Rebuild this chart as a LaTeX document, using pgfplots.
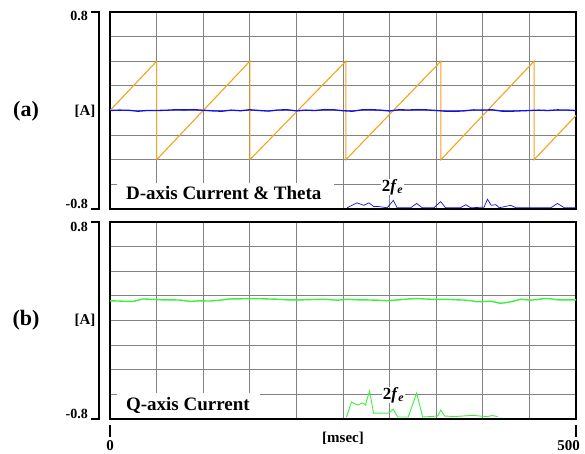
\documentclass[border=0pt]{standalone}
\usepackage{fontspec}
\setmainfont{Liberation Serif}
\usepackage{pgfplots}
\pgfplotsset{compat=1.18}
\definecolor{gridgray}{RGB}{130,130,130}
\definecolor{sawor}{RGB}{245,162,30}
\definecolor{dblue}{RGB}{15,15,240}
\definecolor{qgreen}{RGB}{60,240,60}

\pgfplotsset{
  scope/.style={
    scale only axis, width=466pt, height=197pt,
    xmin=0, xmax=500, ymin=-0.8, ymax=0.8,
    xtick={0,50,...,500},
    ytick={-0.8,-0.6,-0.4,-0.2,0,0.2,0.4,0.6,0.8},
    xticklabels={}, yticklabels={},
    major tick length=0pt,
    grid=major,
    major grid style={line width=0.8pt, gridgray},
    axis line style={line width=2pt, black},
  }
}

\begin{document}
\begin{tikzpicture}[font=\bfseries]
\useasboundingbox (0,0) rectangle (585pt,454pt);

% (a) d-axis current and theta
\begin{axis}[scope, at={(110pt,245pt)}, anchor=south west]
\addplot[sawor, line width=1.1pt] coordinates {
  (0,0) (50,0.4) (50,-0.4) (150,0.4) (150,-0.4) (253,0.4) (253,-0.4)
  (355,0.4) (355,-0.4) (455,0.4) (455,-0.4) (500,-0.04)};
\addplot[dblue, line width=1.3pt] coordinates {
  (0,0) (10,0.003) (20,0.002) (30,-0.006) (40,0) (50,0) (60,0.002) (70,0.006)
  (80,0.005) (90,0.007) (100,0.002) (110,-0.003) (120,-0.006) (130,0.003)
  (140,-0.002) (150,0.006) (160,0) (170,-0.005) (180,0.004) (190,0.006)
  (200,-0.003) (210,0.003) (220,0) (230,0.007) (240,0.006) (250,-0.002)
  (260,-0.006) (270,0.005) (280,0.007) (290,0.003) (300,-0.004) (310,0.006)
  (320,0.004) (330,0.007) (340,0.005) (350,0) (360,-0.006) (370,-0.007)
  (380,-0.003) (390,0.005) (400,0.003) (410,0.006) (420,-0.005) (430,-0.006)
  (440,-0.003) (450,0) (460,0.003) (470,0) (480,0.005) (490,0.004) (500,0)};
% spectrum
\addplot[dblue, line width=0.7pt] coordinates {
  (254.5,-0.79) (265,-0.75) (272.4,-0.77) (277.8,-0.75) (283,-0.78)
  (288,-0.78) (297.5,-0.79) (304,-0.73) (308,-0.79) (322.6,-0.79)
  (329,-0.755) (335,-0.79) (347.6,-0.79) (354.8,-0.74) (360,-0.79)
  (376,-0.79) (381.7,-0.765) (387,-0.79) (401.4,-0.785) (405,-0.72)
  (409,-0.77) (414,-0.765) (417.6,-0.79) (430,-0.77) (435.5,-0.79)
  (473,-0.79) (480,-0.755) (487.5,-0.79) (500,-0.79)};
\fill[white] (axis cs:7,-0.79) rectangle (axis cs:240,-0.592);
\node[anchor=base west, font=\fontsize{19}{21}\bfseries, inner sep=0pt]
  at (axis cs:17,-0.72) {D-axis Current \& Theta};
\node[anchor=base west, font=\fontsize{17}{19}\bfseries, inner sep=0.5pt, fill=white]
  at (axis cs:291,-0.655) {2\textit{f}\textsubscript{\textit{e}}};
\end{axis}

% (b) q-axis current
\begin{axis}[scope, at={(110pt,35pt)}, anchor=south west]
\addplot[qgreen, line width=1.4pt] coordinates {
  (0,0.16) (10,0.158) (20,0.155) (25,0.155) (35,0.175) (45,0.172) (55,0.168)
  (65,0.168) (75,0.166) (86,0.155) (95,0.16) (107,0.158) (118,0.165)
  (129,0.175) (140,0.176) (153,0.178) (165,0.176) (179,0.173) (190,0.168)
  (204,0.167) (215,0.17) (229,0.173) (244,0.165) (255,0.172) (265,0.168)
  (276,0.167) (287,0.165) (297,0.16) (310,0.168) (320,0.175) (330,0.178)
  (340,0.174) (347,0.172) (362,0.172) (372,0.168) (380,0.166) (388,0.16)
  (394,0.152) (408,0.157) (419,0.14) (425,0.145) (430,0.152) (441,0.173)
  (451,0.165) (458,0.17) (466,0.178) (473,0.176) (480,0.168) (490,0.167)
  (500,0.167)};
% spectrum
\addplot[qgreen, line width=0.9pt] coordinates {
  (253.8,-0.784) (259,-0.662) (265.6,-0.687) (271,-0.67) (274,-0.687)
  (278.5,-0.573) (282.8,-0.752) (299,-0.752) (304,-0.72) (308.6,-0.784)
  (320,-0.784) (329,-0.589) (335.5,-0.784) (351.6,-0.776) (355,-0.727)
  (359,-0.776) (370,-0.78) (380,-0.775) (390,-0.77) (395,-0.775)
  (405,-0.78) (410,-0.772) (416,-0.78)};
\fill[white] (axis cs:7,-0.79) rectangle (axis cs:161,-0.592);
\node[anchor=base west, font=\fontsize{19}{21}\bfseries, inner sep=0pt]
  at (axis cs:17,-0.727) {Q-axis Current};
\node[anchor=base west, font=\fontsize{17}{19}\bfseries, inner sep=0.5pt, fill=white]
  at (axis cs:292,-0.64) {2\textit{f}\textsubscript{\textit{e}}};
\end{axis}

% left scale brackets and labels
\draw[line width=2pt] (91pt,442pt) -- (99pt,442pt) -- (99pt,245pt) -- (91pt,245pt);
\draw[line width=2pt] (91pt,232pt) -- (99pt,232pt) -- (99pt,35pt) -- (91pt,35pt);
\begin{scope}[font=\fontsize{14}{16}\bfseries]
\node[anchor=east, inner sep=0pt] at (88pt,438pt) {0.8};
\node[anchor=east, inner sep=0pt] at (88pt,250pt) {-0.8};
\node[anchor=east, inner sep=0pt] at (88pt,227pt) {0.8};
\node[anchor=east, inner sep=0pt] at (88pt,40pt) {-0.8};
\end{scope}
\node[font=\fontsize{15}{17}\bfseries] at (85pt,343pt) {[A]};
\node[font=\fontsize{15}{17}\bfseries] at (85pt,134pt) {[A]};
\node[font=\fontsize{22}{24}\bfseries] at (26pt,343pt) {(a)};
\node[font=\fontsize{22}{24}\bfseries] at (26pt,134pt) {(b)};

% time axis
\draw[line width=2pt] (110pt,29pt) -- (110pt,17pt);
\draw[line width=2pt] (576pt,29pt) -- (576pt,17pt);
\node[anchor=north, inner sep=0pt, font=\fontsize{15}{17}\bfseries] at (110pt,14pt) {0};
\node[anchor=north east, inner sep=0pt, font=\fontsize{15}{17}\bfseries] at (580pt,14pt) {500};
\node[font=\fontsize{15}{17}\bfseries] at (343pt,16pt) {[msec]};
\end{tikzpicture}
\end{document}
